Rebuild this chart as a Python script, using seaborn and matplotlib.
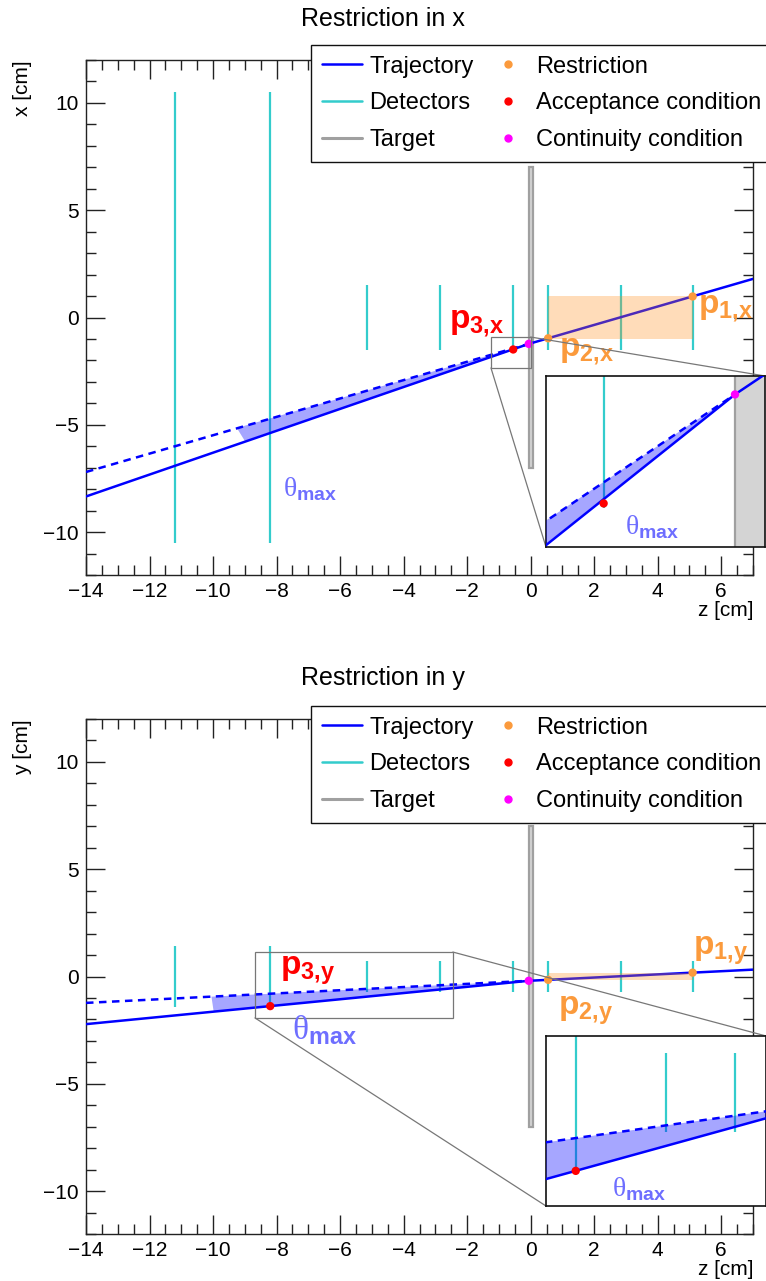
import matplotlib
matplotlib.use("Agg")
import matplotlib.pyplot as plt
import seaborn as sns
from matplotlib.lines import Line2D
from matplotlib.patches import ConnectionPatch, Rectangle
from matplotlib.ticker import MultipleLocator

sns.set_style("white")
plt.rcParams["font.family"] = ["Liberation Sans", "DejaVu Sans"]
plt.rcParams["text.color"] = "black"
plt.rcParams["axes.labelcolor"] = "black"
plt.rcParams["xtick.color"] = "black"
plt.rcParams["ytick.color"] = "black"
plt.rcParams["mathtext.fontset"] = "custom"
plt.rcParams["mathtext.rm"] = "Liberation Serif"
plt.rcParams["mathtext.bf"] = "Liberation Sans:bold"
plt.rcParams["mathtext.it"] = "Liberation Sans:italic"
plt.rcParams["mathtext.sf"] = "Liberation Sans"

# detector planes (z in cm) and half-heights in each view
det_z = [-11.2, -8.2, -5.15, -2.85, -0.55, 0.55, 2.85, 5.1]
det_half_x = [10.5, 10.5, 1.5, 1.5, 1.5, 1.5, 1.5, 1.5]
det_half_y = [1.4, 1.4, 0.7, 0.7, 0.7, 0.7, 0.7, 0.7]
target_z = [-0.06, 0.06]
target_half = 7.0

# x view
traj_x_z = [-14.0, -0.06, 7.0]
traj_x = [-8.34, -1.23, 1.80]
extrap_x_z = [-14.0, -0.06]
extrap_x = [-7.2, -1.23]
theta_x_z = [-9.25, -0.06, -9.0]
theta_x = [-5.15, -1.23, -5.75]
restr_x_z = [5.1, 0.55]
restr_x = [0.98, -0.97]
accept_x_z = [-0.55]
accept_x = [-1.49]
contin_x_z = [-0.06]
contin_x = [-1.23]
band_x = [-0.98, 0.98]

# y view
traj_y_z = [-14.0, -0.06, 7.0]
traj_y = [-2.22, -0.2, 0.32]
extrap_y_z = [-14.0, -0.06]
extrap_y = [-1.23, -0.2]
theta_y_z = [-10.05, -0.06, -9.98]
theta_y = [-0.94, -0.2, -1.64]
restr_y_z = [5.1, 0.55]
restr_y = [0.18, -0.155]
accept_y_z = [-8.2]
accept_y = [-1.38]
contin_y_z = [-0.06]
contin_y = [-0.2]
band_y = [-0.18, 0.18]

TRAJ_C = "#0000ff"
DET_C = "#33cccc"
TARGET_C = "#a0a0a0"
RESTR_C = "#fb9a3c"
ACCEPT_C = "#ff0000"
CONTIN_C = "#ff00ff"
THETA_C = "#6e6eff"

W, H = 766, 1281


def draw_view(ax, det_half, tz, tv, ez, ev, thz, thv, rz, rv, az, av, cz, cv, band):
    ax.add_patch(Rectangle((target_z[0], -target_half), target_z[1] - target_z[0],
                           2 * target_half, fc="#d4d4d4", ec=TARGET_C, lw=1.6, zorder=1))
    ax.vlines(det_z, [-h for h in det_half], det_half, color=DET_C, lw=1.6, zorder=2)
    ax.fill(thz, thv, color=TRAJ_C, alpha=0.35, lw=0, zorder=3)
    sns.lineplot(x=tz, y=tv, ax=ax, color=TRAJ_C, lw=1.8, sort=False,
                 estimator=None, zorder=4)
    sns.lineplot(x=ez, y=ev, ax=ax, color=TRAJ_C, lw=1.8, sort=False,
                 estimator=None, linestyle=(0, (3, 2.2)), zorder=4)
    ax.fill_between([rz[1], rz[0]], band[0], band[1], color="#ff8c1a",
                    alpha=0.3, lw=0, zorder=5)
    for zs, vs, c in [(rz, rv, RESTR_C), (az, av, ACCEPT_C), (cz, cv, CONTIN_C)]:
        sns.scatterplot(x=zs, y=vs, ax=ax, color=c, s=36, edgecolor="none", zorder=6)


def style_main(ax, label):
    ax.set_xlim(-14, 7)
    ax.set_ylim(-12, 12)
    ax.xaxis.set_major_locator(MultipleLocator(2))
    ax.xaxis.set_minor_locator(MultipleLocator(0.5))
    ax.yaxis.set_major_locator(MultipleLocator(5))
    ax.yaxis.set_minor_locator(MultipleLocator(1))
    ax.tick_params(which="both", direction="in", top=True, right=True,
                   bottom=True, left=True, color="#222222", labelcolor="black",
                   width=1, labelsize=15, pad=5)
    ax.tick_params(which="major", length=14)
    ax.tick_params(which="minor", length=7)
    for s in ax.spines.values():
        s.set_color("#222222")
        s.set_linewidth(1)
    ax.set_xlabel("z [cm]", loc="right", fontsize=15)
    ax.xaxis.set_label_coords(1.0, -0.05)
    ax.set_ylabel(label, loc="top", fontsize=15)
    ax.yaxis.set_label_coords(-0.081, 1.0)


def style_inset(ax, zlim, vlim):
    ax.set_xlim(*zlim)
    ax.set_ylim(*vlim)
    ax.set_xticks([])
    ax.set_yticks([])
    ax.set_xlabel("")
    ax.set_ylabel("")
    ax.set_facecolor("white")
    for s in ax.spines.values():
        s.set_color("#111111")
        s.set_linewidth(1.2)


def zoom_box(fig, ax, ins, z0, z1, v0, v1):
    ax.add_patch(Rectangle((z0, v0), z1 - z0, v1 - v0, fill=False,
                           ec="#777777", lw=0.9, zorder=7))
    for xy_a, xy_b in [((z0, v0), (0, 0)), ((z1, v1), (1, 1))]:
        con = ConnectionPatch(xyA=xy_a, coordsA=ax.transData, xyB=xy_b,
                              coordsB=ins.transAxes, color="#777777", lw=0.9)
        fig.add_artist(con)


fig = plt.figure(figsize=(W / 100, H / 100), dpi=100, facecolor="white")

ax_x = fig.add_axes([86 / W, 1 - 575 / H, 667 / W, 515 / H])
ax_y = fig.add_axes([86 / W, 1 - 1234 / H, 667 / W, 515 / H])
ins_x = fig.add_axes([546 / W, 1 - 547 / H, 219 / W, 171 / H], zorder=3)
ins_y = fig.add_axes([546 / W, 1 - 1206 / H, 220 / W, 170 / H], zorder=3)

x_args = (det_half_x, traj_x_z, traj_x, extrap_x_z, extrap_x, theta_x_z, theta_x,
          restr_x_z, restr_x, accept_x_z, accept_x, contin_x_z, contin_x, band_x)
y_args = (det_half_y, traj_y_z, traj_y, extrap_y_z, extrap_y, theta_y_z, theta_y,
          restr_y_z, restr_y, accept_y_z, accept_y, contin_y_z, contin_y, band_y)

for ax in (ax_x, ins_x):
    draw_view(ax, *x_args)
for ax in (ax_y, ins_y):
    draw_view(ax, *y_args)

style_main(ax_x, "x [cm]")
style_main(ax_y, "y [cm]")
style_inset(ins_x, (-0.765, 0.052), (-1.594, -1.186))
style_inset(ins_y, (-9.2, -1.8), (-2.0, 1.0))

zoom_box(fig, ax_x, ins_x, -1.25, 0.0, -2.35, -0.91)
zoom_box(fig, ax_y, ins_y, -8.68, -2.45, -1.93, 1.14)

# point labels
plab = dict(fontsize=24, ha="left", va="baseline", zorder=8)
tlab = dict(fontsize=20, ha="left", va="baseline", zorder=8)
theta = r"$\mathrm{\theta}_{\mathbf{max}}$"
ax_x.text(-2.58, -0.49, r"$\mathbf{p_{3{,}x}}$", color=ACCEPT_C, **plab)
ax_x.text(5.27, 0.21, r"$\mathbf{p_{1{,}x}}$", color=RESTR_C, **plab)
ax_x.text(0.89, -1.79, r"$\mathbf{p_{2{,}x}}$", color=RESTR_C, **plab)
ax_x.text(-7.79, -8.32, theta, color=THETA_C, **tlab)
ins_x.text(-0.47, -1.565, theta, color=THETA_C, **tlab)

ax_y.text(-7.89, 0.07, r"$\mathbf{p_{3{,}y}}$", color=ACCEPT_C, **plab)
ax_y.text(5.11, 1.0, r"$\mathbf{p_{1{,}y}}$", color=RESTR_C, **plab)
ax_y.text(0.86, -1.79, r"$\mathbf{p_{2{,}y}}$", color=RESTR_C, **plab)
ax_y.text(-7.52, -2.96, theta, color=THETA_C, fontsize=24, ha="left",
          va="baseline", zorder=8)
ins_y.text(-6.98, -1.84, theta, color=THETA_C, **tlab)

fig.text(0.5, 1 - 19 / H, "Restriction in x", ha="center", va="center",
         fontsize=18, color="black")
fig.text(0.5, 1 - 678 / H, "Restriction in y", ha="center", va="center",
         fontsize=18, color="black")

handles = [
    Line2D([], [], color=TRAJ_C, lw=1.8),
    Line2D([], [], color=DET_C, lw=1.8),
    Line2D([], [], color=TARGET_C, lw=2.2),
    Line2D([], [], ls="none", marker="o", ms=5, color=RESTR_C),
    Line2D([], [], ls="none", marker="o", ms=5, color=ACCEPT_C),
    Line2D([], [], ls="none", marker="o", ms=5, color=CONTIN_C),
]
names = ["Trajectory", "Detectors", "Target", "Restriction",
         "Acceptance condition", "Continuity condition"]
for top_px in (45, 706):
    leg = fig.legend(handles, names, ncol=2, loc="upper left",
                     bbox_to_anchor=(311 / W, 1 - top_px / H), frameon=True,
                     fancybox=False, framealpha=1, edgecolor="#111111",
                     fontsize=17, handlelength=1.7, handletextpad=0.33,
                     columnspacing=0.6, labelspacing=0.62, borderpad=0.45,
                     borderaxespad=0, labelcolor="black")
    leg.get_frame().set_linewidth(1.0)
    leg.set_zorder(10)

fig.savefig("out.png", dpi=100)
